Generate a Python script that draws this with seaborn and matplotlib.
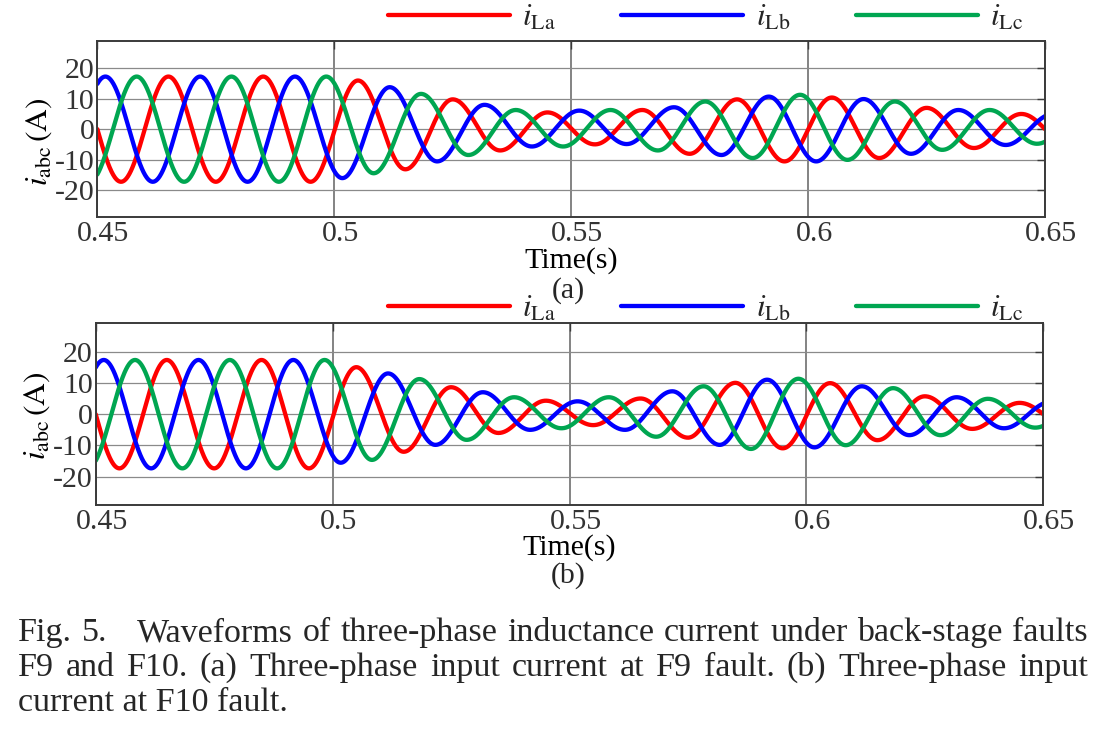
import numpy as np
import pandas as pd
import matplotlib
matplotlib.use("Agg")
import matplotlib.pyplot as plt
import seaborn as sns
from matplotlib.transforms import ScaledTranslation

# time axis / ticks
t_start, t_end = 0.45, 0.65
x_ticks = [0.45, 0.5, 0.55, 0.6, 0.65]
x_tick_labels = ["0.45", "0.5", "0.55", "0.6", "0.65"]
y_ticks = [-20, -10, 0, 10, 20]
y_tick_labels = ["-20", "-10", "0", "10", "20"]

# half-period between successive extrema (50 Hz)
half_period = 0.01
# time of the first extremum of each phase
first_ext_a = 0.4450
first_ext_b = 0.4417
first_ext_c = 0.4483

# extremum values (A), one per half cycle
# (a) F9 fault
ext_a_f9 = [17.3, -17.3, 17.3, -17.3, 17.3, -17.3, 16.0, -13.2, 9.8, -7.0, 5.5,
            -5.0, 6.3, -8.1, 9.8, -10.6, 10.4, -9.5, 7.0, -6.2, 5.0, -5.0]
ext_b_f9 = [-17.3, 17.3, -17.3, 17.3, -17.3, 17.3, -16.1, 13.8, -10.6, 8.0, -5.7,
            6.1, -4.9, 7.2, -8.5, 10.7, -10.6, 9.9, -8.1, 6.3, -5.2, 5.0]
ext_c_f9 = [-17.3, 17.3, -17.3, 17.3, -17.3, 17.3, -14.5, 11.6, -8.5, 6.3, -5.7,
            6.3, -7.0, 9.1, -9.5, 11.3, -10.1, 9.1, -6.8, 6.3, -4.8, 5.0]
# (b) F10 fault
ext_a_f10 = [17.3, -17.3, 17.3, -17.3, 17.3, -17.3, 15.0, -12.0, 8.6, -6.0, 4.3,
             -3.5, 5.0, -7.5, 10.0, -10.9, 9.9, -8.3, 5.7, -4.7, 3.6, -3.6]
ext_b_f10 = [-17.3, 17.3, -17.3, 17.3, -17.3, 17.3, -15.5, 13.0, -9.8, 7.0, -5.0,
             4.1, -5.0, 7.3, -9.8, 11.0, -10.6, 8.9, -6.7, 5.4, -4.5, 4.0]
ext_c_f10 = [-17.3, 17.3, -17.3, 17.3, -17.3, 17.3, -14.6, 11.2, -8.2, 5.4, -4.5,
             5.4, -7.2, 8.9, -11.1, 11.3, -9.9, 8.3, -6.7, 4.9, -4.3, 4.0]

phase_labels = [r"$i_{\mathrm{La}}$", r"$i_{\mathrm{Lb}}$", r"$i_{\mathrm{Lc}}$"]
phase_colors = ["#ff0000", "#0000ff", "#00a651"]
panel_tags = ["(a)", "(b)"]

caption_lines = [
    "Fig. 5.   Waveforms of three-phase inductance current under back-stage faults",
    "F9 and F10. (a) Three-phase input current at F9 fault. (b) Three-phase input",
    "current at F10 fault.",
]


def wave(t, t0, ext):
    # sinusoidal half-cycles joining the extrema
    ext = np.asarray(ext)
    pos = (t - t0) / half_period
    k = np.clip(np.floor(pos).astype(int), 0, len(ext) - 2)
    s = pos - k
    return ext[k] + (ext[k + 1] - ext[k]) * (1 - np.cos(np.pi * s)) / 2


t = np.linspace(t_start, t_end, 2401)


def build_df(ea, eb, ec):
    parts = []
    for lab, t0, ext in zip(phase_labels, [first_ext_a, first_ext_b, first_ext_c], [ea, eb, ec]):
        parts.append(pd.DataFrame({"t": t, "i": wave(t, t0, ext), "phase": lab}))
    return pd.concat(parts, ignore_index=True)


df_f9 = build_df(ext_a_f9, ext_b_f9, ext_c_f9)
df_f10 = build_df(ext_a_f10, ext_b_f10, ext_c_f10)

sns.set_theme(style="white")
plt.rcParams["font.family"] = ["Liberation Serif", "DejaVu Serif"]
plt.rcParams["mathtext.fontset"] = "stix"
plt.rcParams["axes.unicode_minus"] = False

fs = 21.5
fig = plt.figure(figsize=(10.95, 7.32), dpi=100)
fig.patch.set_facecolor("white")

axes_rects = [[0.0889, 0.7031, 0.8655, 0.2409], [0.0874, 0.3101, 0.8654, 0.2482]]
legend_y = [0.9745, 0.5775]
xlabel_y = [-0.17, -0.162]
ylabel_y = [0.43, 0.49]
tag_y = [0.603, 0.2135]

for n, (rect, df) in enumerate(zip(axes_rects, [df_f9, df_f10])):
    ax = fig.add_axes(rect)
    sns.lineplot(data=df, x="t", y="i", hue="phase", palette=phase_colors,
                 hue_order=phase_labels, lw=3.1, estimator=None, sort=False, ax=ax)
    ax.set_xlim(t_start, t_end)
    ax.set_ylim(-29, 29)
    ax.set_xticks(x_ticks)
    ax.set_xticklabels(x_tick_labels)
    ax.set_yticks(y_ticks)
    ax.set_yticklabels(y_tick_labels)
    ax.grid(True, axis="y", color="#8a8a8a", lw=0.9)
    ax.grid(True, axis="x", color="#6e6e6e", lw=1.2)
    ax.set_axisbelow(True)
    for sp in ax.spines.values():
        sp.set_color("#3a3a3a")
        sp.set_linewidth(1.4)
    ax.tick_params(axis="both", direction="in", length=6, width=1.0, color="#3a3a3a",
                   labelsize=fs, labelcolor="#333333", top=True, right=True, pad=3)
    ax.tick_params(axis="y", pad=2)
    for lab in ax.get_xticklabels():
        lab.set_transform(lab.get_transform() + ScaledTranslation(6 / 100, 0, fig.dpi_scale_trans))
    ax.set_xlabel("Time(s)", fontsize=fs, color="black")
    ax.xaxis.set_label_coords(0.5, xlabel_y[n])
    ax.set_ylabel(r"$i_{\mathrm{abc}}\,(\mathrm{A})$", fontsize=fs + 1, color="black")
    ax.yaxis.set_label_coords(-0.046, ylabel_y[n])
    sns.move_legend(ax, "center", bbox_to_anchor=(0.6443, legend_y[n]),
                    bbox_transform=fig.transFigure, ncol=3, frameon=False, title=None,
                    fontsize=fs + 1, handlelength=3.9, handletextpad=0.4,
                    columnspacing=2.1, borderpad=0, borderaxespad=0)
    fig.text(0.519, tag_y[n], panel_tags[n], fontsize=fs, ha="center", va="center")

# caption, justified like the journal layout
cfs = 24.5
renderer = fig.canvas.get_renderer()
cap_left, cap_right = 18 / 1095, 1088 / 1095
cap_base = [1 - 641 / 732, 1 - 676 / 732, 1 - 711 / 732]
for li, line in enumerate(caption_lines):
    if li == len(caption_lines) - 1:
        fig.text(cap_left, cap_base[li], line, fontsize=cfs, va="baseline")
        continue
    words = line.split()
    weights = [3 if w == "5." else 1 for w in words[:-1]]
    txts = [fig.text(0, cap_base[li], w, fontsize=cfs, va="baseline") for w in words]
    widths = [tx.get_window_extent(renderer).width / fig.bbox.width for tx in txts]
    unit = (cap_right - cap_left - sum(widths)) / sum(weights)
    x = cap_left
    for j, tx in enumerate(txts):
        tx.set_x(x)
        x += widths[j] + (unit * weights[j] if j < len(weights) else 0)

fig.savefig("out.png", dpi=100, facecolor="white")
